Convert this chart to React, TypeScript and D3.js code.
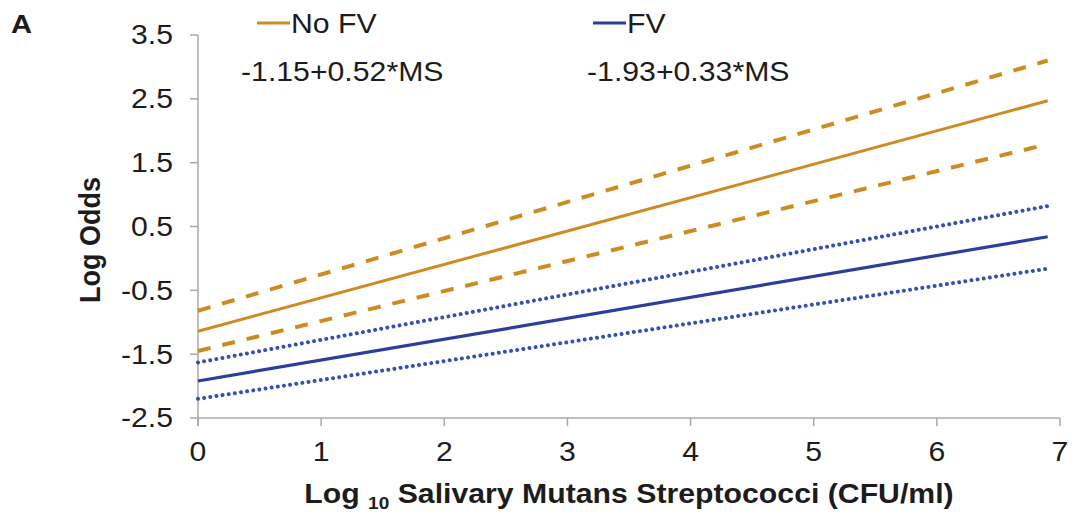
import React from "react";
import * as d3 from "d3";

const xTicks = [0, 1, 2, 3, 4, 5, 6, 7];
const yTicks = [-2.5, -1.5, -0.5, 0.5, 1.5, 2.5, 3.5];
const yTickLabels = ["-2.5", "-1.5", "-0.5", "0.5", "1.5", "2.5", "3.5"];

// x positions of the line end points (Log10 MS)
const xEnds = [0, 6.9];
// No FV (orange): fitted line and 95% band
const noFvMid = [-1.14, 2.47];
const noFvUpper = [-0.82, 3.1];
const noFvLower = [-1.45, 1.79];
// FV (blue): fitted line and 95% band
const fvMid = [-1.92, 0.34];
const fvUpper = [-1.63, 0.82];
const fvLower = [-2.2, -0.16];

const legendNames = ["No FV", "FV"];
const equations = ["-1.15+0.52*MS", "-1.93+0.33*MS"];

const ORANGE = "#CD8B22";
const BLUE = "#2B3E9E";
const AXIS = "#A8A8A8";
const TEXT = "#1c1c1c";
const FONT = "'Liberation Sans', Arial, sans-serif";
const SX = 1.12;

export default function App() {
  const x = d3.scaleLinear().domain([0, 7]).range([198, 1060]);
  const y = d3.scaleLinear().domain([-2.5, 3.5]).range([418, 35]);
  const line = d3
    .line<[number, number]>()
    .x((d) => x(d[0]))
    .y((d) => y(d[1]));
  const pts = (vals: number[]) => xEnds.map((xv, i) => [xv, vals[i]] as [number, number]);

  const series = [
    { vals: noFvUpper, color: ORANGE, w: 4, dash: "13,12", cap: "butt" },
    { vals: noFvLower, color: ORANGE, w: 4, dash: "13,12", cap: "butt" },
    { vals: noFvMid, color: ORANGE, w: 3, dash: null, cap: "butt" },
    { vals: fvUpper, color: "#3550B0", w: 4, dash: "0.01,6.2", cap: "round" },
    { vals: fvLower, color: "#3550B0", w: 4, dash: "0.01,6.2", cap: "round" },
    { vals: fvMid, color: BLUE, w: 3.2, dash: null, cap: "butt" },
  ];

  const legendX = [257, 593];
  const eqX = [241, 587];
  const legendColors = [ORANGE, BLUE];

  return (
    <svg
      width={1074}
      height={514}
      style={{ position: "absolute", left: 0, top: 0, background: "#fff" }}
      fontFamily={FONT}
    >
      {/* panel letter */}
      <g transform={`translate(11,33) scale(${SX},1)`}>
        <text fontSize={26} fontWeight="bold" fill={TEXT}>A</text>
      </g>

      {/* axes */}
      <line x1={x(0)} x2={x(0)} y1={y(3.5)} y2={y(-2.5) + 8} stroke={AXIS} strokeWidth={1.5} />
      <line x1={x(0)} x2={x(7)} y1={y(-2.5)} y2={y(-2.5)} stroke={AXIS} strokeWidth={1.5} />
      {yTicks.map((t, i) => (
        <g key={"yt" + i}>
          <line x1={x(0) - 8} x2={x(0)} y1={y(t)} y2={y(t)} stroke={AXIS} strokeWidth={1.5} />
          <g transform={`translate(173,${y(t)}) scale(${SX},1)`}>
            <text textAnchor="end" dy="0.35em" fontSize={27} fill={TEXT}>
              {yTickLabels[i]}
            </text>
          </g>
        </g>
      ))}
      {xTicks.map((t) => (
        <g key={"xt" + t}>
          <line x1={x(t)} x2={x(t)} y1={y(-2.5)} y2={y(-2.5) + 8} stroke={AXIS} strokeWidth={1.5} />
          <g transform={`translate(${x(t)},461) scale(${SX},1)`}>
            <text textAnchor="middle" fontSize={27} fill={TEXT}>
              {t}
            </text>
          </g>
        </g>
      ))}

      {/* lines */}
      {series.map((s, i) => (
        <path
          key={"s" + i}
          d={line(pts(s.vals)) || ""}
          fill="none"
          stroke={s.color}
          strokeWidth={s.w}
          strokeDasharray={s.dash || undefined}
          strokeLinecap={s.cap as any}
        />
      ))}

      {/* legend */}
      {legendNames.map((n, i) => (
        <g key={"lg" + i}>
          <line x1={legendX[i]} x2={legendX[i] + 33} y1={23} y2={23} stroke={legendColors[i]} strokeWidth={3} />
          <g transform={`translate(${legendX[i] + 34},33) scale(${SX},1)`}>
            <text fontSize={27} fill={TEXT}>{n}</text>
          </g>
          <g transform={`translate(${eqX[i]},81) scale(${SX},1)`}>
            <text fontSize={27} fill={TEXT}>{equations[i]}</text>
          </g>
        </g>
      ))}

      {/* axis titles */}
      <g transform={`translate(100,240) scale(${SX},1) rotate(-90)`}>
        <text textAnchor="middle" fontSize={27} fontWeight="bold" fill={TEXT}>
          Log Odds
        </text>
      </g>
      <g transform={`translate(629,503) scale(${SX},1)`}>
        <text textAnchor="middle" fontSize={27} fontWeight="bold" fill={TEXT}>
          Log <tspan fontSize={17} dy={6}>10</tspan>
          <tspan dy={-6}> Salivary Mutans Streptococci (CFU/ml)</tspan>
        </text>
      </g>
    </svg>
  );
}
